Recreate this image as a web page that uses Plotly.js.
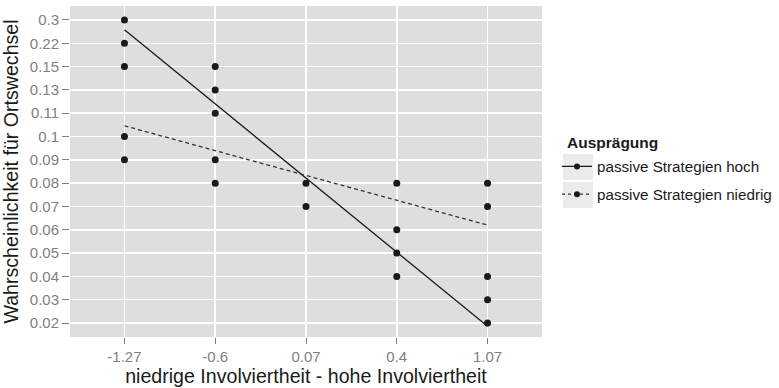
<!DOCTYPE html>
<html><head><meta charset="utf-8">
<script src="https://cdn.plot.ly/plotly-3.0.1.min.js"></script>
<style>body{margin:0;background:#fff}#c{width:779px;height:388px}</style>
</head><body><div id="c"></div>
<script>
// Discrete axis categories
const xCats = ['-1.27', '-0.6', '0.07', '0.4', '1.07'];
const yCats = ['0.02','0.03','0.04','0.05','0.06','0.07','0.08','0.09','0.1','0.11','0.13','0.15','0.22','0.3'];

// Observed points
const ptX = ['-1.27','-1.27','-1.27','-1.27','-1.27',
             '-0.6','-0.6','-0.6','-0.6','-0.6',
             '0.07','0.07',
             '0.4','0.4','0.4','0.4',
             '1.07','1.07','1.07','1.07','1.07'];
const ptY = ['0.3','0.22','0.15','0.1','0.09',
             '0.15','0.13','0.11','0.09','0.08',
             '0.08','0.07',
             '0.08','0.06','0.05','0.04',
             '0.08','0.07','0.04','0.03','0.02'];

// Fitted lines (in discrete-scale position units), at first and last x category
const fitX = ['-1.27', '1.07'];
const fitHoch = [12.58, -0.14];
const fitNiedrig = [8.46, 4.2];

const seriesNames = ['passive Strategien hoch', 'passive Strategien niedrig'];
const legendTitle = 'Ausprägung';

const xi = v => xCats.indexOf(v);
const yi = v => yCats.indexOf(v);

const ink = '#1a1a1a';
const FONT = 'Liberation Sans, Arial, sans-serif';
const traces = [
  {x: ptX.map(xi), y: ptY.map(yi), mode: 'markers', type: 'scatter', showlegend: false,
   marker: {color: ink, size: 7}, hoverinfo: 'skip'},
  {x: fitX.map(xi), y: fitHoch, mode: 'lines', type: 'scatter', showlegend: false,
   line: {color: ink, width: 1.3}},
  {x: fitX.map(xi), y: fitNiedrig, mode: 'lines', type: 'scatter', showlegend: false,
   line: {color: '#333', width: 1.3, dash: '4px,3px'}},
  {x: [null], y: [null], mode: 'lines+markers', type: 'scatter', name: seriesNames[0], legendgroup: 'a',
   line: {color: ink, width: 1.3}, marker: {color: ink, size: 6}},
  {x: [null], y: [null], mode: 'lines+markers', type: 'scatter', name: seriesNames[1], legendgroup: 'b',
   line: {color: '#333', width: 1.3, dash: '3px,3px'}, marker: {color: ink, size: 6}}
];

const tickFont = {family: FONT, size: 15, color: '#7f7f7f'};
const titleFont = {family: FONT, size: 19.6, color: '#1a1a1a'};

// paper-coordinate helpers for legend key backgrounds
const PX = px => (px - 70) / 472;
const PY = py => (337 - py) / 331;

const layout = {
  width: 779, height: 388,
  margin: {l: 70, r: 237, t: 6, b: 51, autoexpand: false},
  paper_bgcolor: '#ffffff',
  plot_bgcolor: '#dedede',
  showlegend: true,
  xaxis: {
    range: [-0.6, xCats.length - 1 + 0.6],
    tickvals: xCats.map((c, i) => i), ticktext: xCats,
    showgrid: true, gridcolor: '#ffffff', gridwidth: 1.5, zeroline: false,
    ticks: 'outside', ticklen: 6, tickcolor: '#7f7f7f', tickwidth: 1,
    tickfont: tickFont, showline: false, automargin: false,
    title: {text: 'niedrige Involviertheit - hohe Involviertheit', font: titleFont, standoff: 3}
  },
  yaxis: {
    range: [-0.6, yCats.length - 1 + 0.6],
    tickvals: yCats.map((c, i) => i), ticktext: yCats,
    showgrid: true, gridcolor: '#ffffff', gridwidth: 1.5, zeroline: false,
    ticks: 'outside', ticklen: 7, tickcolor: '#7f7f7f', tickwidth: 1,
    tickfont: tickFont, showline: false, automargin: false,
    title: {text: 'Wahrscheinlichkeit für Ortswechsel', font: titleFont, standoff: 6}
  },
  legend: {
    x: PX(557), y: PY(150), xanchor: 'left', yanchor: 'top',
    bgcolor: 'rgba(0,0,0,0)',
    font: {family: FONT, size: 15.2, color: '#1a1a1a'},
    tracegroupgap: 5, itemwidth: 30
  },
  annotations: [{
    text: '<b>' + legendTitle + '</b>', xref: 'paper', yref: 'paper',
    x: PX(565), y: PY(142), xanchor: 'left', yanchor: 'middle', showarrow: false,
    font: {family: FONT, size: 15.5, color: '#1a1a1a'}
  }],
  shapes: [
    {type: 'rect', xref: 'paper', yref: 'paper', x0: PX(563), x1: PX(593), y0: PY(154), y1: PY(180),
     fillcolor: '#ebebeb', line: {width: 0}, layer: 'below'},
    {type: 'rect', xref: 'paper', yref: 'paper', x0: PX(563), x1: PX(593), y0: PY(182), y1: PY(208),
     fillcolor: '#ebebeb', line: {width: 0}, layer: 'below'}
  ]
};

Plotly.newPlot('c', traces, layout, {displayModeBar: false, staticPlot: true});
</script></body></html>
